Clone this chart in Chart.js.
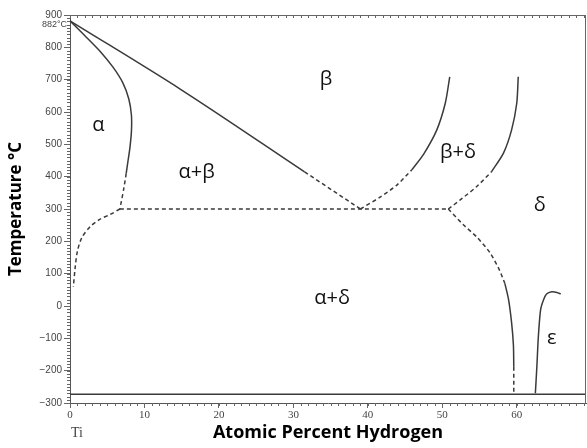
<!DOCTYPE html>
<html>
<head>
<meta charset="utf-8">
<script src="https://cdn.jsdelivr.net/npm/chart.js@4.4.1/dist/chart.umd.min.js"></script>
<style>
html,body{margin:0;padding:0;background:#fff;overflow:hidden}
#wrap{width:587px;height:448px;position:relative}
</style>
</head>
<body>
<div id="wrap"><canvas id="phaseChart"></canvas></div>
<script>
// Ti-H phase diagram: temperature (°C) vs atomic percent hydrogen
// each boundary is split into its solid and dashed pieces, [at% H, °C]
const alphaSolvus = [[0,882],[2,836],[4,789],[5.8,738],[7.1,690],[7.9,640],[8.25,590],[8.25,540],[8.05,490],[7.8,450],[7.55,410]];
const alphaSolvusDashed = [[7.55,410],[7.2,360],[6.7,300]];
const alphaLowDashed = [[6.7,300],[5.4,283],[4.0,268],[2.7,245],[1.6,212],[1.0,170],[0.7,120],[0.45,60]];
const betaTransus = [[0,882],[15,668],[31.5,415]];
const betaTransusDashed = [[31.5,415],[39,300]];
const betaDeltaLeftDashed = [[39,300],[41.6,336],[43.9,374],[45.9,421]];
const betaDeltaLeft = [[45.9,421],[47.5,470],[49.25,544],[50.4,627],[51,709]];
const betaDeltaRightDashed = [[50.8,300],[52.4,328],[54.6,369],[56.6,415]];
const betaDeltaRight = [[56.6,415],[58.2,472],[59.3,544],[60.0,627],[60.2,709]];
const eutectoid = [[6.7,300],[39,300],[50.8,300]];
const deltaLowDashed = [[50.8,300],[52.8,252],[54.6,214],[56.4,165],[57.7,110],[58.4,70]];
const deltaLow = [[58.4,70],[58.9,20],[59.3,-50],[59.55,-120],[59.6,-188]];
const deltaLowTail = [[59.6,-188],[59.6,-270]];
const epsilon = [[62.5,-270],[62.7,-188],[62.9,-95],[63.2,-12],[63.6,19],[64.0,37],[64.7,44],[65.4,42],[65.9,37]];
const absoluteZero = [[0,-273],[69.3,-273]];

const phaseNames = ['α', 'α+β', 'β', 'β+δ', 'δ', 'α+δ', 'ε'];
const phaseX = [3.8, 17, 34.4, 52.1, 63.1, 35.2, 64.7];
const phaseT = [560, 415, 700, 476, 312, 25, -99];

const lineCol = '#3a3a3a';
const pts = arr => arr.map(p => ({x: p[0], y: p[1]}));
function seg(arr, dashed, tension, monotone) {
  return {
    data: pts(arr), borderColor: lineCol, borderWidth: 1.5,
    borderDash: dashed ? [4, 3] : [], tension: tension ?? 0.25,
    cubicInterpolationMode: monotone ? 'monotone' : 'default',
    pointRadius: 0, fill: false
  };
}

// minor ticks, frame and in-plot text
const decor = {
  id: 'decor',
  afterDraw(chart) {
    const {ctx, chartArea: a, scales: {x, y}} = chart;
    ctx.save();
    ctx.strokeStyle = '#666';
    ctx.lineWidth = 1;
    ctx.beginPath();
    for (let v = -300; v <= 900; v += 10) {
      const p = Math.round(y.getPixelForValue(v)) + 0.5;
      ctx.moveTo(a.left - 3, p); ctx.lineTo(a.left, p);
    }
    for (let v = 0; v <= 69; v++) {
      const p = Math.round(x.getPixelForValue(v)) + 0.5;
      ctx.moveTo(p, a.bottom); ctx.lineTo(p, a.bottom + 3);
      ctx.moveTo(p, a.top); ctx.lineTo(p, a.top + 3);
    }
    ctx.moveTo(a.left, a.top + 0.5); ctx.lineTo(a.right, a.top + 0.5);
    ctx.moveTo(a.right - 0.5, a.top); ctx.lineTo(a.right - 0.5, a.bottom);
    ctx.stroke();

    ctx.fillStyle = '#444';
    ctx.font = '9px "Liberation Sans"';
    ctx.textAlign = 'right';
    ctx.textBaseline = 'middle';
    ctx.fillText('882°C', a.left - 3, y.getPixelForValue(882) + 4);

    ctx.font = '14px "Liberation Serif"';
    ctx.textAlign = 'left';
    ctx.fillText('Ti', x.getPixelForValue(0) + 1, 433);

    ctx.fillStyle = '#111';
    ctx.font = '20px "Open Sans"';
    ctx.textAlign = 'center';
    phaseNames.forEach((n, i) => {
      ctx.fillText(n, x.getPixelForValue(phaseX[i]), y.getPixelForValue(phaseT[i]));
    });
    ctx.restore();
  }
};

const chart = new Chart(document.getElementById('phaseChart'), {
  type: 'line',
  data: {
    datasets: [
      seg(alphaSolvus, false, 0.2), seg(alphaSolvusDashed, true, 0.2), seg(alphaLowDashed, true, 0.3),
      seg(betaTransus, false, 0, true), seg(betaTransusDashed, true, 0),
      seg(betaDeltaLeftDashed, true), seg(betaDeltaLeft, false),
      seg(betaDeltaRightDashed, true), seg(betaDeltaRight, false),
      seg(eutectoid, true, 0),
      seg(deltaLowDashed, true), seg(deltaLow, false), seg(deltaLowTail, true, 0),
      seg(epsilon, false), seg(absoluteZero, false, 0)
    ]
  },
  options: {
    animation: false, responsive: true, maintainAspectRatio: false,
    layout: { padding: { top: 15, right: 1, bottom: 0, left: 0 } },
    plugins: { legend: { display: false }, tooltip: { enabled: false } },
    scales: {
      x: {
        type: 'linear', min: 0, max: 69.3,
        afterFit: s => { s.height = 45; },
        afterBuildTicks: s => { s.ticks = [0, 10, 20, 30, 40, 50, 60].map(v => ({value: v})); },
        grid: { drawOnChartArea: false, tickLength: 5, color: '#666' },
        border: { color: '#555', width: 1 },
        ticks: { color: '#444', padding: 1, font: { family: 'Liberation Serif', size: 11 }, maxRotation: 0 },
        title: { display: true, text: 'Atomic Percent Hydrogen', color: '#000',
          font: { family: 'Open Sans', size: 18, weight: 'bold' }, padding: { top: 0, bottom: 4 } }
      },
      y: {
        min: -300, max: 900,
        afterFit: s => { s.width = 70; },
        grid: { drawOnChartArea: false, tickLength: 6, color: '#666' },
        border: { color: '#555', width: 1 },
        ticks: { stepSize: 100, color: '#444', padding: 2, autoSkip: false,
          font: { family: 'Liberation Sans', size: 10 },
          callback: v => v < 0 ? '\u2212' + Math.abs(v) : String(v) },
        title: { display: true, text: 'Temperature °C', color: '#000',
          font: { family: 'Open Sans', size: 17, weight: 'bold' }, padding: { top: 6, bottom: 0 } }
      }
    }
  },
  plugins: [decor]
});
</script>
</body>
</html>
